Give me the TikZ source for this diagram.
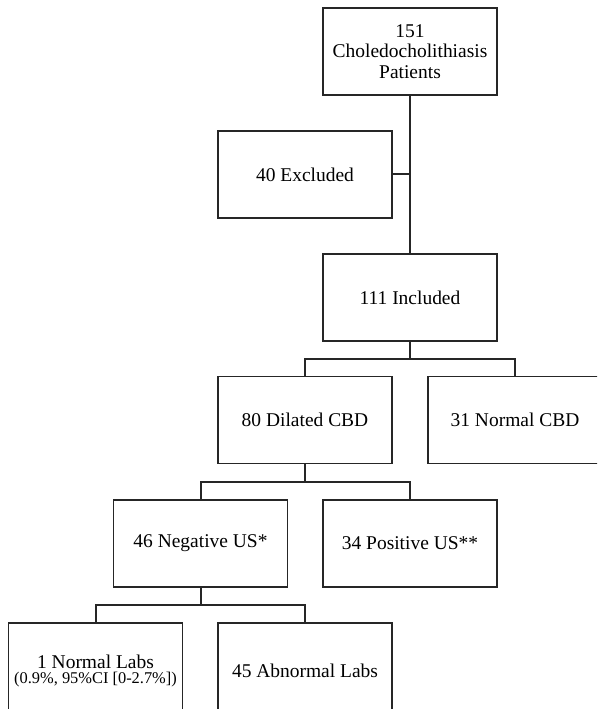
\documentclass[tikz,border=0pt]{standalone}
\usepackage{fontspec}
\setmainfont{Liberation Serif}
\begin{document}
\begin{tikzpicture}[x=0.75pt,y=-0.75pt,
  box/.style={draw=black!85,line width=1.2pt,minimum width=130.5pt,minimum height=65.25pt,inner sep=0pt,align=center,font=\fontsize{14.6}{15.6}\selectfont},
  tallbox/.style={box,minimum height=72pt},
  conn/.style={draw=black!85,line width=1.5pt}]
\useasboundingbox (0,0) rectangle (597,709);
\clip (0,0) rectangle (597,709);
\node[box] (b1) at (410,51.5) {151\\Choledocholithiasis\\Patients};
\node[box] (b2) at (305,174.5) {40 Excluded};
\node[box] (b3) at (410,297.5) {111 Included};
\node[box] (b4) at (305,420) {80 Dilated CBD};
\node[box] (b5) at (515,420) {31 Normal CBD};
\node[box] (b6) at (200.5,543.5) {46 Negative US*};
\node[box] (b7) at (410,543.5) {34 Positive US**};
\node[tallbox] (b8) at (95.5,671) {1 Normal Labs\\[-4pt]{\fontsize{12.3}{13}\selectfont (0.9\%, 95\%CI [0-2.7\%])}};
\node[tallbox] (b9) at (305,671) {45 Abnormal Labs};
\coordinate (j1) at (410,359);
\coordinate (j2) at (305,482);
\coordinate (j3) at (200.5,605);
\draw[conn] (b1.south) -- (b3.north);
\draw[conn] (b2.east) -- (b2.east -| b1.south);
\draw[conn] (b3.south) -- (j1);
\draw[conn] (b4.north) |- (j1) -| (b5.north);
\draw[conn] (b4.south) -- (j2);
\draw[conn] (b6.north) |- (j2) -| (b7.north);
\draw[conn] (b6.south) -- (j3);
\draw[conn] (b8.north) |- (j3) -| (b9.north);
\end{tikzpicture}
\end{document}
